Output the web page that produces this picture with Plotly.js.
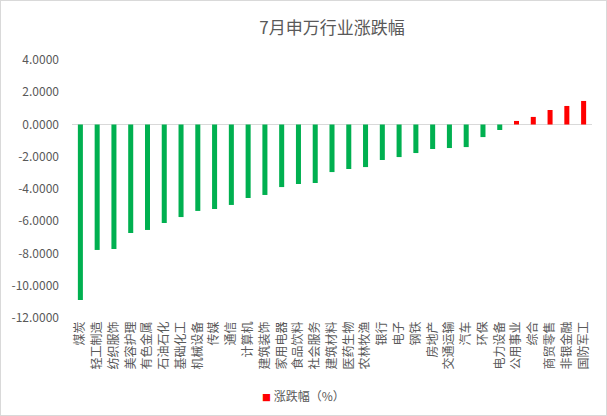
<!DOCTYPE html>
<html>
<head>
<meta charset="utf-8">
<script src="https://cdn.plot.ly/plotly-3.0.1.min.js"></script>
<style>
html,body{margin:0;padding:0;background:#fff;}
#wrap{position:relative;width:607px;height:416px;}
#chart{width:607px;height:416px;}
#frame{position:absolute;left:0;top:0;width:607px;height:416px;box-sizing:border-box;border:1px solid #d9d9d9;pointer-events:none;}
</style>
</head>
<body>
<div id="wrap"><div id="chart"></div><div id="frame"></div></div>
<script>
var categories = ["煤炭","轻工制造","纺织服饰","美容护理","有色金属","石油石化","基础化工","机械设备","传媒","通信","计算机","建筑装饰","家用电器","食品饮料","社会服务","建筑材料","医药生物","农林牧渔","银行","电子","钢铁","房地产","交通运输","汽车","环保","电力设备","公用事业","综合","商贸零售","非银金融","国防军工"];
var changePct = [-10.88,-7.78,-7.72,-6.73,-6.54,-6.11,-5.74,-5.36,-5.24,-4.99,-4.56,-4.37,-3.88,-3.69,-3.63,-2.95,-2.76,-2.64,-2.20,-2.02,-1.77,-1.52,-1.46,-1.40,-0.78,-0.34,0.22,0.47,0.90,1.15,1.46];
var yTickVals = [4,2,0,-2,-4,-6,-8,-10,-12];
var yTickText = ["4.0000","2.0000","0.0000","-2.0000","-4.0000","-6.0000","-8.0000","-10.0000","-12.0000"];
var seriesName = "涨跌幅（%）";
var posColor = "#FF0000", negColor = "#00B050";

var barColors = changePct.map(function(v){ return v < 0 ? negColor : posColor; });
var font = "'Microsoft YaHei','Noto Sans CJK SC','Noto Sans',sans-serif";

var traces = [
  {type:"bar", name:seriesName, x:categories, y:changePct, marker:{color:barColors}, showlegend:false, hoverinfo:"x+y"}
];

var layout = {
  width:607, height:416,
  margin:{l:72, r:15, t:60, b:98},
  paper_bgcolor:"#fff", plot_bgcolor:"#fff",
  font:{family:font, color:"#595959", size:12},
  showlegend:false,
  title:{text:"7月申万行业涨跌幅", x:0.5, xref:"paper", xanchor:"center", y:1-28/416, yref:"container", yanchor:"middle", font:{size:17, color:"#595959", family:font}},
  bargap:0.7,
  xaxis:{type:"category", categoryorder:"array", categoryarray:categories, tickangle:-90, showgrid:false, zeroline:false, showline:false, ticks:"", tickfont:{size:12, color:"#595959"}, range:[-0.5, categories.length-0.5], fixedrange:true},
  yaxis:{range:[-12,4], tickvals:yTickVals, ticktext:yTickText, showgrid:false, zeroline:true, zerolinecolor:"#D9D9D9", zerolinewidth:1, showline:false, ticks:"", ticklabelstandoff:12, tickfont:{size:12, color:"#595959"}, fixedrange:true},
  annotations:[{
    xref:"paper", yref:"paper", x:(303-72)/520, y:-(395-318)/258, xanchor:"center", yanchor:"middle", showarrow:false,
    text:'<span style="color:' + posColor + ';font-size:9px">■</span> ' + seriesName,
    font:{size:12, color:"#595959", family:font}
  }]
};

Plotly.newPlot("chart", traces, layout, {displayModeBar:false, staticPlot:true});
</script>
</body>
</html>
